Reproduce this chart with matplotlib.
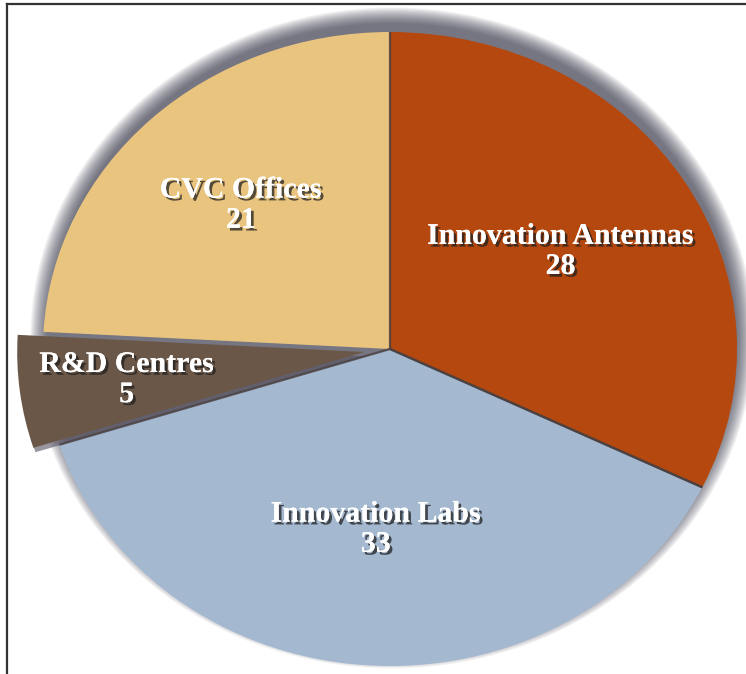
import numpy as np
import matplotlib
matplotlib.use("Agg")
import matplotlib.pyplot as plt
from matplotlib import patheffects as pe
from matplotlib.patches import Ellipse, Wedge
from matplotlib.lines import Line2D

categories = ["Innovation Antennas", "Innovation Labs", "R&D Centres", "CVC Offices"]
values = [28, 33, 5, 21]
colors = ["#B5480F", "#A4B8D0", "#6B5747", "#E9C47F"]
explode = [0, 0, 0.075, 0]
label_r = [0.58, 0.57, 0.69, 0.625]

W, H = 746, 674
fig = plt.figure(figsize=(W / 100, H / 100), dpi=100)
ax = fig.add_axes([0, 0, 1, 1])

# pie geometry in pixels (slightly elliptical)
cx, cy = 390, 674 - 349
rx, ry = 347, 317

# soft shadow / glow behind pie (stronger at the top, fading at the bottom)
n = 24
for i in range(n):
    s = 0.99 + 0.0022 * (n - i)
    e = Ellipse((0.006, 0.035), 2 * s, 2 * s, facecolor="#3a3a4a", edgecolor="none",
                alpha=0.045, zorder=0)
    ax.add_patch(e)

wedges, _ = ax.pie(values, colors=colors, startangle=90, counterclock=False,
                   explode=explode, radius=1.0,
                   wedgeprops=dict(linewidth=0))
for w in wedges:
    w.set_zorder(2)

# shadow under R&D slice
rd = wedges[2]
sh = Wedge((rd.center[0] + 0.006, rd.center[1] - 0.014), 1.0, rd.theta1, rd.theta2,
           facecolor="#555060", edgecolor="none", alpha=0.6, zorder=1.5)
ax.add_patch(sh)

# dark separators along slice boundaries
for w in wedges[:2]:
    for th in (w.theta1, w.theta2):
        t = np.deg2rad(th)
        ax.plot([w.center[0], np.cos(t)], [w.center[1], np.sin(t)],
                color="#4a4040", lw=1.6, alpha=0.85, zorder=3,
                solid_capstyle="butt")

ax.set_aspect("auto")
ax.set_xlim(-cx / rx, (W - cx) / rx)
ax.set_ylim(-cy / ry, (H - cy) / ry)
ax.axis("off")

effects = [pe.withSimplePatchShadow(offset=(2.0, -2.0), shadow_rgbFace="#202020", alpha=0.75),
           pe.Normal()]
total = sum(values)
start = 90.0
for i, (cat, v) in enumerate(zip(categories, values)):
    span = v / total * 360
    mid = np.deg2rad(start - span / 2)
    start -= span
    ex = explode[i]
    r = label_r[i] + ex
    x, y = r * np.cos(mid), r * np.sin(mid)
    ax.text(x, y, f"{cat}\n{v}", ha="center", va="center", color="white",
            fontsize=21.5, fontweight="bold", family="Liberation Serif",
            linespacing=1.15, path_effects=effects, zorder=5)

# partial frame (left and top borders)
fx = 7 / W
fy = 1 - 4 / H
fig.add_artist(Line2D([fx, fx], [0, fy], transform=fig.transFigure, color="#333333", lw=1.6))
fig.add_artist(Line2D([fx, 1], [fy, fy], transform=fig.transFigure, color="#333333", lw=1.6))

fig.savefig("out.png", dpi=100, facecolor="white")
